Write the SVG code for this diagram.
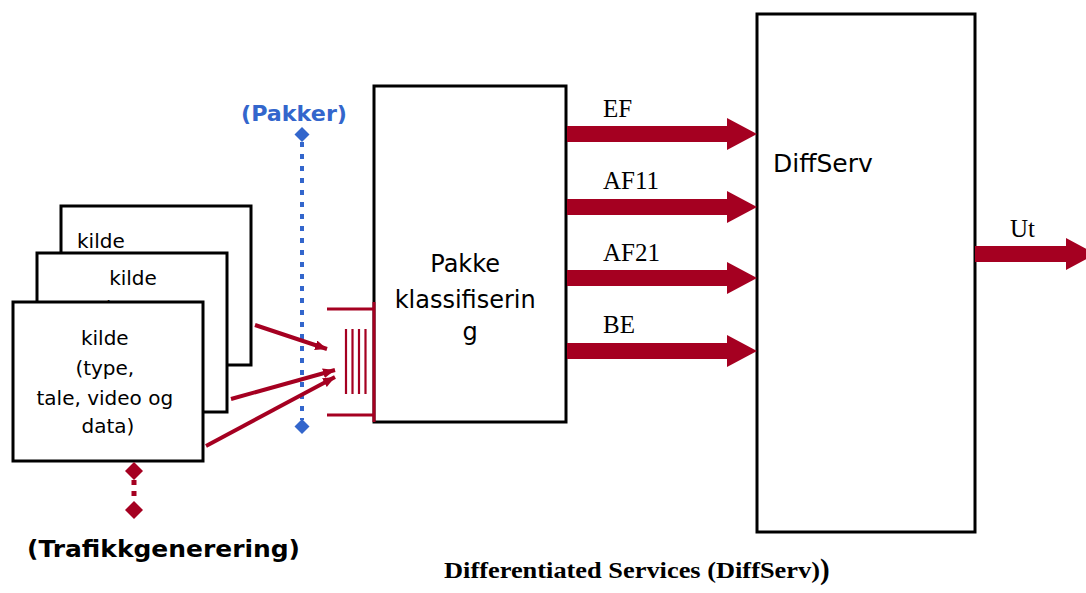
<svg xmlns="http://www.w3.org/2000/svg" width="1086" height="593" viewBox="0 0 1086 593">
<style>
.box{fill:#fff;stroke:#000;stroke-width:3}
.comic{font-family:"DejaVu Sans","Liberation Sans",sans-serif;fill:#000}
.times{font-family:"Liberation Serif","Times New Roman",serif;fill:#000}
.red{stroke:#A50021;fill:none}
.redfill{fill:#A50021}
</style>
<defs>
<marker id="ah" viewBox="0 0 12 10" refX="12" refY="5" markerWidth="12" markerHeight="10" markerUnits="userSpaceOnUse" orient="auto">
<path d="M0,0 L12,5 L0,10 Z" fill="#A50021"/>
</marker>
</defs>
<rect width="1086" height="593" fill="#fff"/>

<g id="kilde1">
<rect class="box" x="61" y="206" width="190" height="159"/>
<text class="comic" x="77" y="248" font-size="20">kilde</text>
</g>
<g id="kilde2">
<rect class="box" x="37" y="253" width="190" height="159"/>
<text class="comic" x="133" y="285" font-size="20" text-anchor="middle">kilde</text>
<text class="comic" x="133" y="315" font-size="20" text-anchor="middle">(type,</text>
</g>
<g id="kilde3">
<rect class="box" x="13" y="302" width="190" height="159"/>
<text class="comic" font-size="20" text-anchor="middle">
<tspan x="108" y="345">kilde</tspan>
<tspan x="108" y="375">(type,</tspan>
<tspan x="108" y="405">tale, video og</tspan>
<tspan x="108" y="433">data)</tspan>
</text>
</g>

<g id="trafikk">
<path class="red" d="M134,480 V502" stroke-width="5" stroke-dasharray="5 6"/>
<path class="redfill" d="M134,462 L143,471 L134,480 L125,471 Z"/>
<path class="redfill" d="M134,501 L143,510 L134,519 L125,510 Z"/>
<text class="comic" x="27" y="557" font-size="23" font-weight="bold" textLength="273" lengthAdjust="spacingAndGlyphs">(Trafikkgenerering)</text>
</g>

<g id="pakker">
<path d="M302,142 V420" stroke="#3366CC" stroke-width="4" stroke-dasharray="5 7" fill="none"/>
<path d="M302,127 L309.5,134.5 L302,142 L294.5,134.5 Z" fill="#3366CC"/>
<path d="M302,419 L309.5,426.5 L302,434 L294.5,426.5 Z" fill="#3366CC"/>
<text x="294" y="121" font-family="DejaVu Sans,sans-serif" font-size="22" font-weight="bold" fill="#3366CC" text-anchor="middle" textLength="106" lengthAdjust="spacingAndGlyphs">(Pakker)</text>
</g>

<g id="klassifisering">
<rect class="box" x="374" y="86" width="192" height="336"/>
<text class="comic" font-size="24" text-anchor="middle">
<tspan x="469" y="272">Pakke</tspan>
<tspan x="469" y="308">klassifiserin</tspan>
<tspan x="470" y="340">g</tspan>
</text>
</g>

<g id="ko">
<path class="red" d="M374,302 V422 M327,309 H374 M327,415 H374" stroke-width="3"/>
<path class="red" d="M346,329 V394 M352.5,329 V394 M359,329 V394 M365.5,329 V394" stroke-width="2.2"/>
</g>

<g id="diffserv">
<rect class="box" x="757" y="14" width="218" height="518"/>
<text class="comic" x="773" y="172" font-size="25">DiffServ</text>
</g>

<g id="connectors">
<line class="red" x1="255" y1="325" x2="327" y2="349" stroke-width="4" marker-end="url(#ah)"/>
<line class="red" x1="231" y1="399" x2="335" y2="370" stroke-width="4" marker-end="url(#ah)"/>
<line class="red" x1="206" y1="446" x2="335" y2="377" stroke-width="4" marker-end="url(#ah)"/>
<path class="redfill" d="M567,126 H727 V118 L757,134 L727,150 V142 H567 Z"/>
<path class="redfill" d="M567,199 H727 V191 L757,207 L727,223 V215 H567 Z"/>
<path class="redfill" d="M567,270 H727 V262 L757,278 L727,294 V286 H567 Z"/>
<path class="redfill" d="M567,343 H727 V335 L757,351 L727,367 V359 H567 Z"/>
<path class="redfill" d="M975,246 H1066 V238 L1096,254 L1066,270 V262 H975 Z"/>
<text class="times" x="603" y="117" font-size="25">EF</text>
<text class="times" x="603" y="189" font-size="25">AF11</text>
<text class="times" x="603" y="261" font-size="25">AF21</text>
<text class="times" x="603" y="333" font-size="25">BE</text>
<text class="times" x="1010" y="237" font-size="25">Ut</text>
</g>

<text class="times" x="444" y="578" font-size="24" font-weight="bold"><tspan textLength="376" lengthAdjust="spacingAndGlyphs">Differentiated Services (DiffServ)</tspan><tspan font-size="29" dy="1">)</tspan></text>
</svg>
